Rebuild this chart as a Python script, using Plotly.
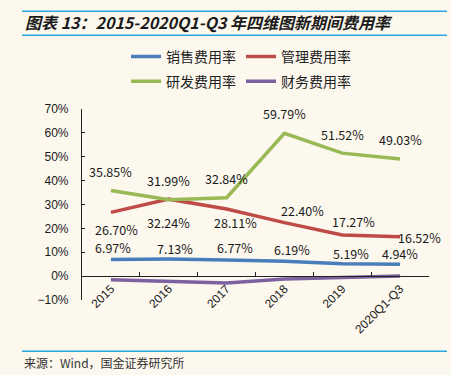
import plotly.graph_objects as go

categories = ["2015", "2016", "2017", "2018", "2019", "2020Q1-Q3"]
sales = [6.97, 7.13, 6.77, 6.19, 5.19, 4.94]
admin = [26.70, 32.24, 28.11, 22.40, 17.27, 16.52]
rnd = [35.85, 31.99, 32.84, 59.79, 51.52, 49.03]
finance = [-1.5, -2.2, -2.9, -1.2, -0.4, 0.1]
y_ticks = [-10, 0, 10, 20, 30, 40, 50, 60, 70]

names = ["销售费用率", "管理费用率", "研发费用率", "财务费用率"]
colors = ["#4A7EBB", "#BE4B48", "#98B954", "#7D60A0"]
series = [sales, admin, rnd, finance]
legend_ids = ["legend", "legend", "legend2", "legend2"]

# label pixel offsets (xshift, yshift)
sales_off = [(2, 11.5), (6, 11), (8, 12), (8, 12), (9, 10), (0, 11)]
admin_off = [(6, -17.5), (0, -23), (9, -13), (18, 12.5), (11, 13), (-3, -1)]
rnd_off = [(0, 19), (0, 19), (0, 19), (0, 20), (0, 19), (0, 19.5)]

BG = "#FCF8EE"
W, H = 451, 375
L, R, T, B = 82, 22, 109, 74.5
PW, PH = W - L - R, H - T - B

fig = go.Figure()
for nm, col, vals, lg in zip(names, colors, series, legend_ids):
    fig.add_trace(go.Scatter(
        x=categories, y=vals, mode="lines", name=nm,
        line=dict(color=col, width=3.5), legend=lg,
    ))

lab_font = dict(family="Noto Sans CJK SC", size=12.5, color="#1a1a1a")
annotations = []
for vals, offs, last_left in [(sales, sales_off, False), (admin, admin_off, True), (rnd, rnd_off, False)]:
    for i, v in enumerate(vals):
        xs, ys = offs[i]
        left = last_left and i == len(categories) - 1
        annotations.append(dict(
            x=i, y=v, xref="x", yref="y", text=f"{v:.2f}%", showarrow=False,
            xshift=xs, yshift=ys, font=lab_font, borderpad=0,
            xanchor="left" if left else "center", yanchor="middle",
        ))

def px_x(px):
    return (px - L) / PW

def px_y(py):
    return (H - B - py) / PH

# source text
annotations.append(dict(
    x=px_x(22), y=px_y(363), xref="paper", yref="paper",
    text="来源：Wind，国金证券研究所", showarrow=False, xanchor="left", yanchor="middle",
    font=dict(family="Noto Sans CJK SC", size=12, color="#333333"),
))

shapes = []
for py in [11, 35, 352]:
    shapes.append(dict(type="line", xref="paper", yref="paper",
                       x0=px_x(22), x1=px_x(447), y0=px_y(py), y1=px_y(py),
                       line=dict(color="#2AA5DF", width=1.5)))

fig.update_layout(
    width=W, height=H,
    margin=dict(l=L, r=R, t=T, b=B, pad=0),
    paper_bgcolor=BG, plot_bgcolor=BG,
    title=dict(
        text="图表 13：2015-2020Q1-Q3 年四维图新期间费用率",
        x=25 / W, xref="container", xanchor="left",
        y=1 - 23 / H, yref="container", yanchor="middle",
        font=dict(family="Noto Sans CJK SC", size=16, color="#1a1a1a",
                  weight="bold", style="italic"),
    ),
    legend=dict(orientation="h", x=px_x(241), y=px_y(56.7), xanchor="center", yanchor="middle",
                bgcolor="rgba(0,0,0,0)", font=dict(family="Noto Sans CJK SC", size=14, color="#222"),
                itemwidth=30),
    legend2=dict(orientation="h", x=px_x(241), y=px_y(81.7), xanchor="center", yanchor="middle",
                 bgcolor="rgba(0,0,0,0)", font=dict(family="Noto Sans CJK SC", size=14, color="#222"),
                 itemwidth=30),
    xaxis=dict(
        type="category", range=[-0.5, 5.5], anchor="free", position=1 / 8,
        showline=True, linecolor="#222", linewidth=1.2,
        ticks="inside", ticklen=4, tickcolor="#222", tickson="boundaries",
        tickangle=-45, showgrid=False, zeroline=False,
        tickfont=dict(family="Liberation Sans", size=12, color="#1a1a1a"),
    ),
    yaxis=dict(
        range=[-10, 70], tickvals=y_ticks, ticktext=[f"{v}%" if v >= 0 else f"\u2212{-v}%" for v in y_ticks],
        showline=True, linecolor="#222", linewidth=1.2,
        ticks="inside", ticklen=3, tickcolor="#222",
        showgrid=False, zeroline=False, ticklabelstandoff=10,
        tickfont=dict(family="Liberation Sans", size=12, color="#1a1a1a"),
    ),
    annotations=annotations,
    shapes=shapes,
)

fig.write_html("out.html", config={"displayModeBar": False},
               post_script="document.body.style.margin='0';document.body.style.background='" + BG + "';")
